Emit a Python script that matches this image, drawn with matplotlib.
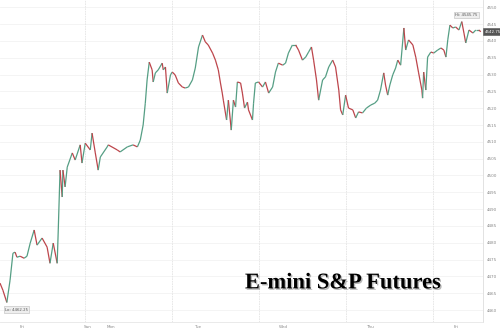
import matplotlib
matplotlib.use("Agg")
import matplotlib.pyplot as plt
import numpy as np
from matplotlib.collections import LineCollection
import matplotlib.patheffects as pe

# time in hours since session open (weekend compressed), price in points
hours = [0.0,0.8,1.9,2.8,3.6,4.2,4.7,5.6,6.7,7.5,8.4,9.5,10.3,11.7,13.1,13.9,14.8,15.9,16.2,16.7,
         17.3,17.5,18.1,18.7,20.1,20.9,22.3,22.8,23.7,25.1,25.6,26.5,27.3,27.9,29.8,30.1,32.6,33.4,
         35.4,37.0,38.2,39.0,39.8,40.4,40.9,41.5,42.3,42.6,43.2,44.0,45.1,45.4,46.0,46.5,47.4,47.9,
         48.7,49.6,50.7,51.5,52.4,53.5,54.3,55.2,56.3,57.1,57.9,59.1,59.9,60.7,61.3,61.8,62.1,63.0,
         63.5,64.3,64.9,65.5,66.0,66.9,67.4,68.0,68.8,69.1,70.2,70.5,71.0,71.9,73.0,73.8,74.7,75.8,
         76.6,77.4,78.6,79.4,80.2,81.3,82.2,83.0,84.1,85.0,85.8,86.6,87.2,88.0,88.6,89.7,90.5,91.4,
         92.5,93.3,94.2,94.7,95.3,96.1,96.9,98.1,98.9,99.7,100.8,101.9,103.1,104.2,105.0,105.8,106.7,
         107.2,107.8,108.4,109.2,110.0,110.6,111.4,112.3,112.8,113.6,114.8,115.6,116.4,117.3,117.5,
         117.8,118.4,118.9,119.8,120.6,121.7,122.6,123.4,124.0,124.5,125.1,125.9,126.7,127.6,128.4,
         129.0,129.5,130.4,131.5,132.3,133.1,133.7]
prices = [4468.0,4465.9,4462.25,4468.9,4476.9,4477.2,4475.7,4476.0,4475.4,4476.0,4479.9,4483.8,4479.3,
          4481.4,4478.7,4473.9,4479.9,4473.9,4483.8,4501.6,4493.6,4501.6,4496.6,4502.5,4506.7,4504.6,
          4509.1,4503.7,4509.6,4507.6,4512.6,4506.7,4501.6,4505.5,4508.5,4509.1,4507.6,4507.0,4508.5,
          4509.1,4508.5,4510.5,4515.0,4521.5,4528.4,4533.7,4531.4,4527.8,4530.5,4531.4,4533.4,4531.4,
          4532.25,4524.5,4529.9,4530.75,4529.9,4527.5,4526.3,4526.0,4526.3,4528.4,4531.95,4538.2,
          4541.75,4539.7,4538.8,4536.4,4534.3,4531.4,4527.5,4524.5,4522.4,4516.5,4522.4,4513.5,4522.4,
          4520.35,4527.8,4527.5,4524.5,4520.05,4521.8,4519.5,4516.5,4521.5,4527.5,4527.8,4526.3,4527.8,
          4524.5,4526.3,4530.75,4533.4,4532.8,4533.4,4536.4,4538.8,4538.8,4537.3,4534.3,4535.2,4536.7,
          4538.2,4534.3,4528.4,4522.4,4528.4,4529.3,4532.25,4534.3,4532.25,4525.4,4519.5,4518.0,4523.9,
          4520.05,4519.5,4517.1,4518.9,4518.6,4520.05,4520.95,4521.5,4522.4,4525.4,4530.5,4526.9,4523.9,
          4526.9,4529.9,4531.95,4534.3,4532.8,4543.85,4537.3,4540.3,4538.8,4535.2,4530.5,4525.4,4523.0,
          4530.75,4525.4,4535.2,4536.7,4536.4,4537.3,4537.9,4537.3,4535.2,4540.3,4544.7,4543.85,4544.15,
          4543.25,4545.75,4542.35,4539.4,4543.25,4542.35,4543.25,4543.25,4542.75]

day_labels = ["Fri", "Sun", "Mon", "Tue", "Wed", "Thu", "Fri"]
day_label_pos = [6.1, 24.5, 30.9, 54.9, 78.8, 102.8, 126.7]
day_bounds = [23.7, 47.9, 71.9, 96.1, 120.3]
y_ticks = list(range(4460, 4551, 5))
hi_val = 4545.75
lo_val = 4462.25
last_val = 4542.75
title = "E-mini S&P Futures"

GREEN = "#559e84"
RED = "#bd454b"

fig = plt.figure(figsize=(5.0, 3.32), dpi=100)
fig.patch.set_facecolor("white")
ax = fig.add_axes([0.0, 0.030, 0.966, 0.970])
ax.set_facecolor("white")

x = np.array(hours)
y = np.array(prices)
pts = np.column_stack([x, y]).reshape(-1, 1, 2)
segs = np.concatenate([pts[:-1], pts[1:]], axis=1)
cols = [GREEN if y[i + 1] >= y[i] else RED for i in range(len(y) - 1)]
lc = LineCollection(segs, colors=cols, linewidths=0.9, capstyle="butt", zorder=3)
ax.add_collection(lc)

ax.set_xlim(0, 134.3)
ax.set_ylim(4456.43, 4552.17)

for yt in y_ticks:
    ax.axhline(yt, color="#f3f3f3", lw=0.6, zorder=0)
for xb in day_bounds:
    ax.axvline(xb, color="#e4e4e4", lw=0.6, ls=(0, (2, 1)), zorder=1)

ax.yaxis.tick_right()
ax.set_yticks(y_ticks)
ax.set_yticklabels([str(v) for v in y_ticks], fontsize=3.0, color="#888888")
ax.tick_params(axis="y", length=0, pad=3)
ax.set_xticks(day_label_pos)
ax.set_xticklabels(day_labels, fontsize=3.0, color="#888888")
ax.tick_params(axis="x", length=0, pad=2)

for s in ["top", "left"]:
    ax.spines[s].set_visible(False)
ax.spines["right"].set_color("#dddddd")
ax.spines["right"].set_linewidth(0.6)
ax.spines["bottom"].set_color("#e6e6e6")
ax.spines["bottom"].set_linewidth(0.6)

# annotations
hi_t = hours[prices.index(hi_val)]
ax.text(hi_t + 1.2, hi_val + 2.0, f"Hi: {hi_val:.2f}", fontsize=2.8, color="#555555",
        ha="center", va="center", zorder=5,
        bbox=dict(boxstyle="square,pad=0.35", fc="#eeeeee", ec="#bbbbbb", lw=0.4))
lo_t = hours[prices.index(lo_val)]
ax.text(lo_t + 2.7, lo_val - 2.1, f"Lo: {lo_val:.2f}", fontsize=2.8, color="#555555",
        ha="center", va="center", zorder=5,
        bbox=dict(boxstyle="square,pad=0.35", fc="#eeeeee", ec="#bbbbbb", lw=0.4))
ax.text(1.003, last_val, f"{last_val:.2f}", transform=ax.get_yaxis_transform(),
        fontsize=2.9, color="white", ha="left", va="center", zorder=6, clip_on=False,
        bbox=dict(boxstyle="square,pad=0.35", fc="#555555", ec="#555555", lw=0.4))

ax.text(0.71, 0.12, title, transform=ax.transAxes, fontsize=16.2, fontweight="bold",
        family="Liberation Serif", color="black", ha="center", va="center", zorder=6,
        path_effects=[pe.withSimplePatchShadow(offset=(1.0, -1.0), shadow_rgbFace="#888888", alpha=0.6)])

fig.savefig("out.png", dpi=100, facecolor="white")
